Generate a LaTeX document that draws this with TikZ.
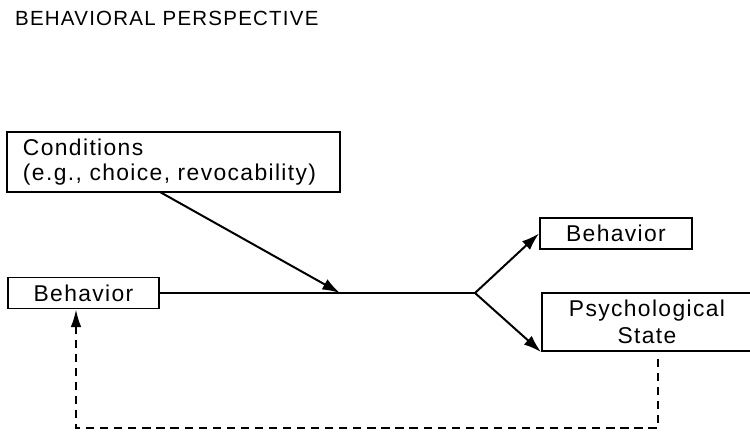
\documentclass[tikz,border=0pt]{standalone}
\usepackage{fontspec}
\setmainfont{Liberation Sans}[LetterSpace=6]
\usetikzlibrary{arrows.meta}
\tikzset{
  box/.style={draw, line width=1.7pt, inner sep=0pt, font=\fontsize{19.5}{21.5}\selectfont},
  conn/.style={line width=1.7pt, -{Latex[length=15pt,width=10pt]}},
  back/.style={line width=1.5pt, dash pattern=on 7pt off 5pt, -{Latex[length=15pt,width=9pt]}}
}
\begin{document}
\begin{tikzpicture}[x=0.03cm, y=-0.03cm]
			%%%%% START %%%%%
			\useasboundingbox (0, 0) rectangle (750, 432);
			
			\node[anchor=west, font=\fontsize{17.5}{20}\selectfont] (title) at (11, 18) {BEHAVIORAL PERSPECTIVE};
			
			\node[box, minimum width=333*0.03cm, minimum height=60*0.03cm, align=left, text width=301*0.03cm] (cond) at (173.5, 162) {Conditions\\(e.g., choice, revocability)};
			\node[box, minimum width=151*0.03cm, minimum height=31*0.03cm] (behin) at (83.5, 293) {Behavior};
			\node[box, minimum width=152*0.03cm, minimum height=31*0.03cm] (behout) at (616, 233.5) {Behavior};
			\node[box, minimum width=210*0.03cm, minimum height=58*0.03cm, align=center] (psych) at (647, 322) {Psychological\\[1.5pt]State};
			
			\coordinate (hit) at (340, 293);
			\coordinate (fork) at (475, 293);
			\coordinate (low) at (658, 428);
			\coordinate (lowleft) at (76, 428);
			
			\draw[line width=1.7pt] (behin.east) -- (fork);
			\draw[conn] (160, 192) -- (hit);
			\draw[conn] (fork) -- (behout.west);
			\draw[conn] (fork) -- (psych.south west);
			
			\draw[back] ([yshift=-6pt]psych.south -| low) -- (low) -- (lowleft) -- (behin.south -| lowleft);
			%%%%% END %%%%%
		\end{tikzpicture}
\end{document}
